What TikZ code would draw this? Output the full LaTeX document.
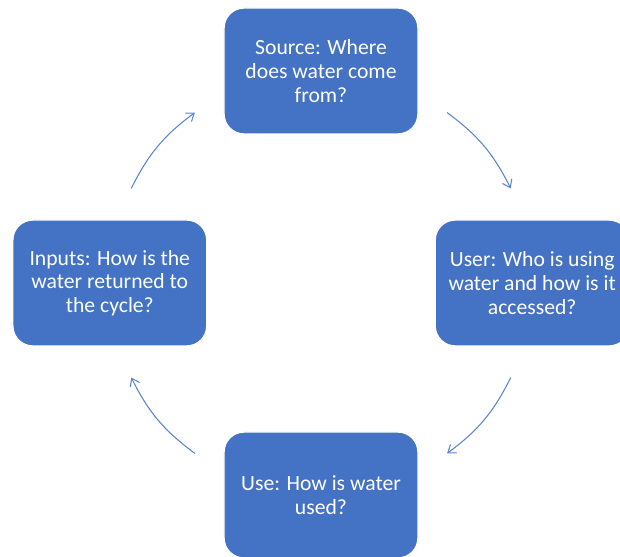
\documentclass[tikz,border=0pt]{standalone}
\usepackage{fontspec}
\setmainfont{Carlito}
\usetikzlibrary{arrows.meta}
\definecolor{cycleblue}{HTML}{4472C4}
\definecolor{arrowblue}{HTML}{5A85CD}
\tikzset{
  stage/.style={draw=white, line width=1pt, fill=cycleblue, rounded corners=.5cm,
    minimum width=4.85cm, minimum height=3.15cm, text=white, align=center,
    font=\fontsize{15.4}{16.8}\selectfont},
  cyc/.style={draw=arrowblue, line width=.75pt,
    -{Straight Barb[length=1.8mm,width=2.6mm]}}
}
\begin{document}
\begin{tikzpicture}
    \useasboundingbox (-8.025,-6.85) rectangle (7.475,7.075);
    \node[stage] (source) at (0,5.3) {Source: Where\\does water come\\from?};
    \node[stage] (user) at (5.28,0) {User: Who is using\\water and how is it\\accessed?};
    \node[stage] (use) at (0,-5.3) {Use: How is water\\used?};
    \node[stage] (inputs) at (-5.28,0) {Inputs: How is the\\water returned to\\the cycle?};
    \coordinate (a1) at (53.5:5.3);
    \coordinate (b1) at (26.5:5.3);
    \coordinate (a2) at (-26.5:5.3);
    \coordinate (b2) at (-53.5:5.3);
    \coordinate (a3) at (233.5:5.3);
    \coordinate (b3) at (206.5:5.3);
    \coordinate (a4) at (153.5:5.3);
    \coordinate (b4) at (126.5:5.3);
    \draw[cyc] (a1) to[bend left=13.5] (b1);
    \draw[cyc] (a2) to[bend left=13.5] (b2);
    \draw[cyc] (a3) to[bend left=13.5] (b3);
    \draw[cyc] (a4) to[bend left=13.5] (b4);
\end{tikzpicture}
\end{document}
